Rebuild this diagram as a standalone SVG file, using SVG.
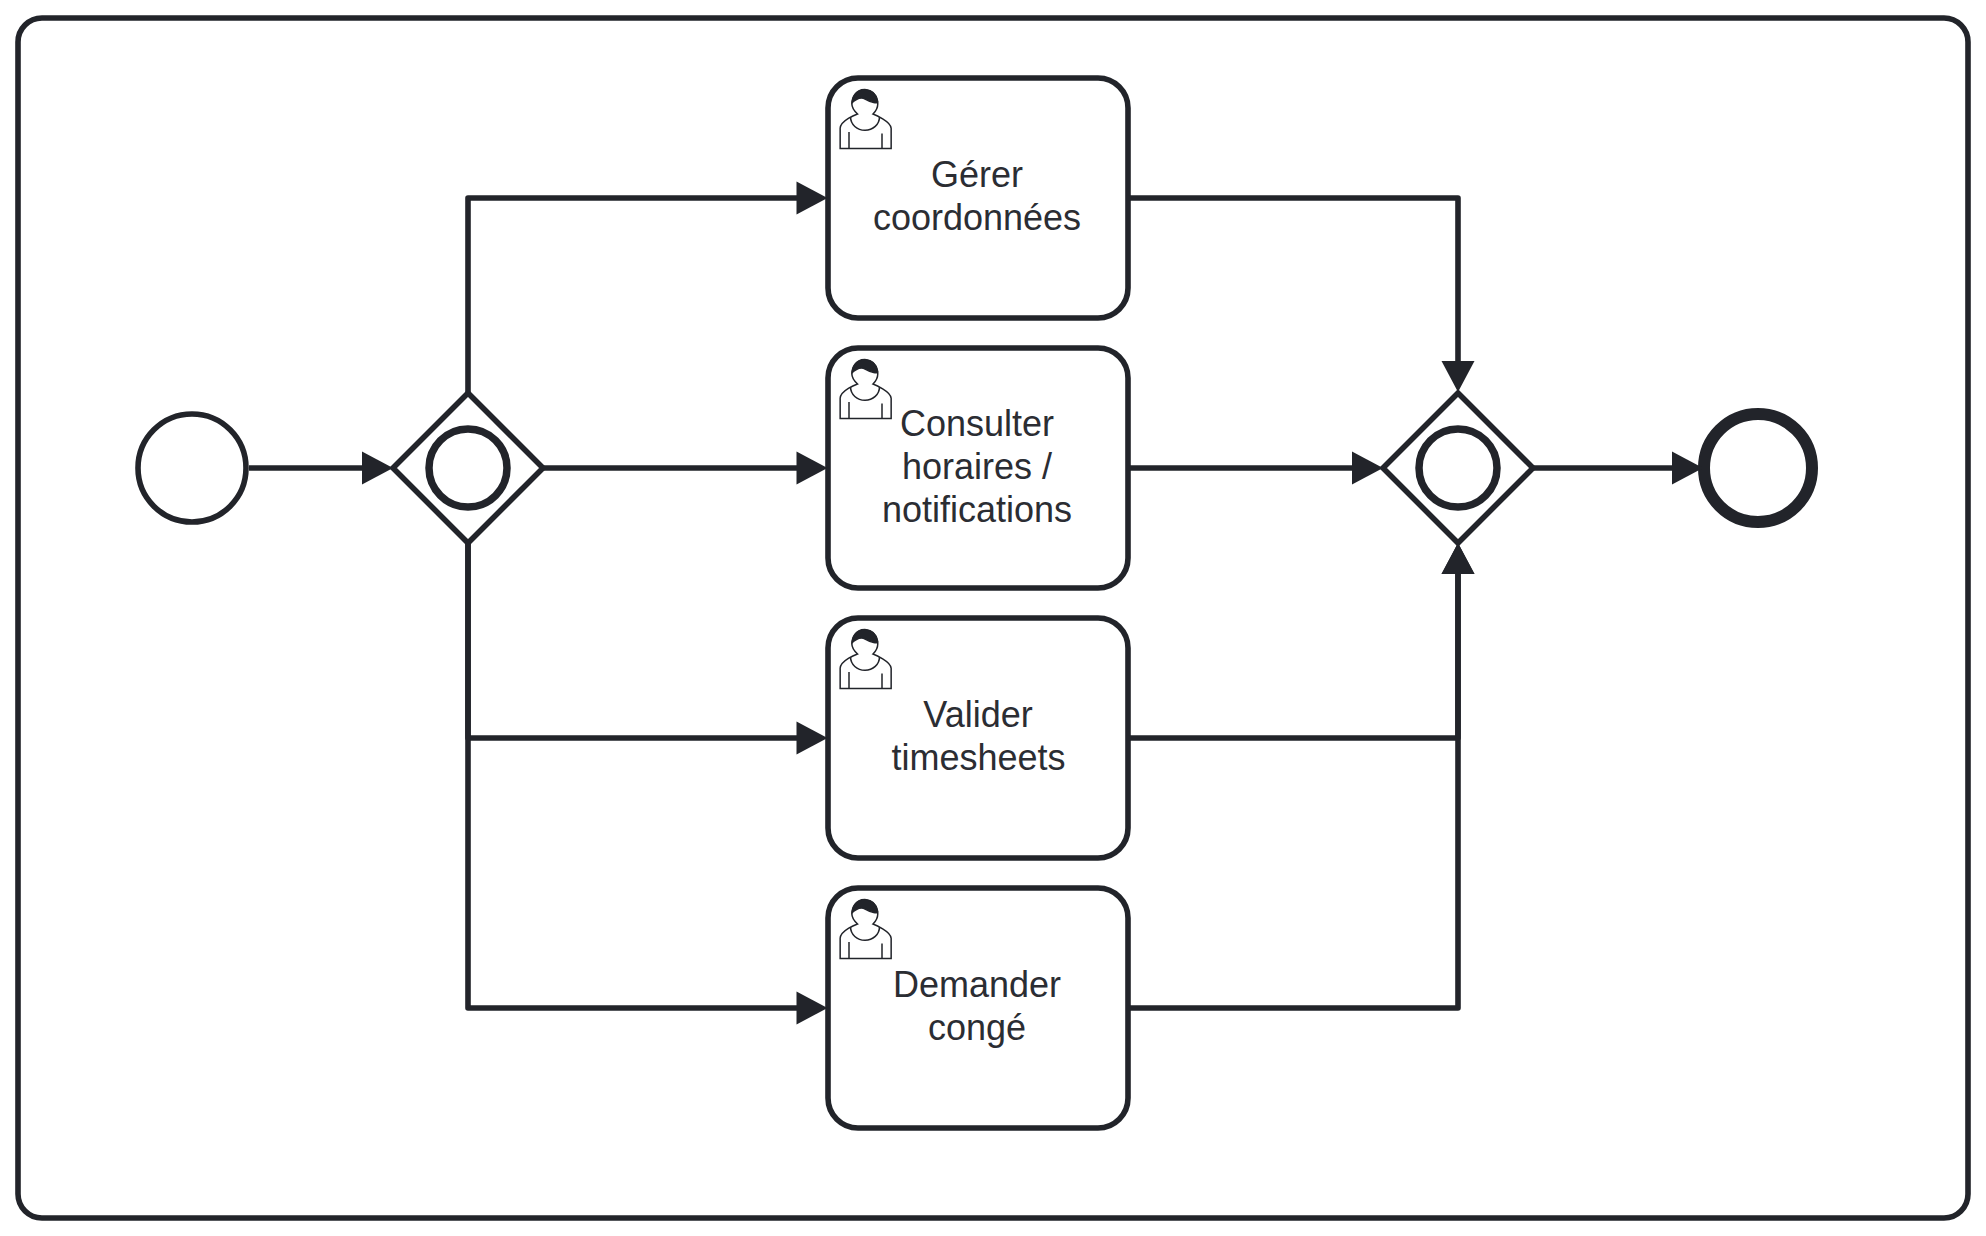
<svg xmlns="http://www.w3.org/2000/svg" xmlns:xlink="http://www.w3.org/1999/xlink" width="1986" height="1236" viewBox="0 0 1986 1236">
<style>
.shape{fill:#fff;stroke:#22242a;stroke-width:5.6}
.gw{fill:#fff;stroke:#22242a;stroke-width:5.6;stroke-linejoin:miter}
.ring{fill:#fff;stroke:#22242a;stroke-width:7.5}
.edge{fill:none;stroke:#22242a;stroke-width:5.6;stroke-linejoin:round;marker-end:url(#arrow)}
.plain{fill:none;stroke:#22242a;stroke-width:5.6}
text{font-family:"Liberation Sans",Arial,sans-serif;font-size:36px;fill:#2b2d33;text-anchor:middle}
</style>
<defs>
<marker id="arrow" markerUnits="userSpaceOnUse" markerWidth="34" markerHeight="36" refX="16" refY="18" orient="auto" overflow="visible">
<path d="M0 1.5L31 18L0 34.5Z" fill="#22242a"/>
</marker>
<g id="user">
<path d="m15,12c0.909,-0.845 1.594,-2.049 1.594,-3.385 0,-2.554 -1.805,-4.622 -4.357,-4.622 -2.552,0 -4.288,2.068 -4.288,4.622 0,1.348 0.974,2.562 1.896,3.405 -0.529,0.187 -5.669,2.097 -5.794,4.756v6.718h17v-6.718c0,-2.298 -5.528,-4.595 -6.051,-4.776zm-8,6l0,5.5m11,0l0,-5" fill="#fff" stroke="#22242a" stroke-width=".5"/>
<path d="m15,12m2.162,1.009c0,2.447 -2.158,4.431 -4.821,4.431 -2.665,0 -4.822,-1.981 -4.822,-4.431" fill="none" stroke="#22242a" stroke-width=".5"/>
<path d="m15,12m-6.9,-3.8c0,0 2.251,-2.358 4.274,-1.177 2.024,1.181 4.221,1.537 4.124,0.965 -0.098,-0.57 -0.117,-3.791 -4.191,-4.136 -3.575,0.001 -4.208,3.367 -4.207,4.348z" fill="#22242a" stroke="#22242a" stroke-width=".5"/>
</g>
</defs>
<rect width="1986" height="1236" fill="#fff"/>
<g id="frame"><rect class="plain" x="18" y="18" width="1950" height="1200" rx="24" ry="24"/></g>
<g id="start"><circle class="shape" cx="192" cy="468" r="54"/></g>
<g id="gateway-split"><path class="gw" d="M468 393L543 468L468 543L393 468Z"/><circle class="ring" cx="468" cy="468" r="39"/></g>
<g id="task-gerer"><rect class="shape" x="828" y="78" width="300" height="240" rx="30" ry="30"/><use xlink:href="#user" href="#user" transform="translate(828 78) scale(3)"/><text x="977" y="187">Gérer</text><text x="977" y="230">coordonnées</text></g>
<g id="task-consulter"><rect class="shape" x="828" y="348" width="300" height="240" rx="30" ry="30"/><use xlink:href="#user" href="#user" transform="translate(828 348) scale(3)"/><text x="977" y="436">Consulter</text><text x="977" y="479">horaires /</text><text x="977" y="522">notifications</text></g>
<g id="task-valider"><rect class="shape" x="828" y="618" width="300" height="240" rx="30" ry="30"/><use xlink:href="#user" href="#user" transform="translate(828 618) scale(3)"/><text x="978" y="727">Valider</text><text x="978.500" y="770">timesheets</text></g>
<g id="task-demander"><rect class="shape" x="828" y="888" width="300" height="240" rx="30" ry="30"/><use xlink:href="#user" href="#user" transform="translate(828 888) scale(3)"/><text x="977" y="997">Demander</text><text x="977" y="1040">congé</text></g>
<g id="gateway-join"><path class="gw" d="M1458 393L1533 468L1458 543L1383 468Z"/><circle class="ring" cx="1458" cy="468" r="39"/></g>
<g id="end"><circle class="shape" style="stroke-width:12" cx="1758" cy="468" r="54"/></g>
<g id="connectors">
<path class="edge" d="M249 468H378"/>
<path class="edge" d="M468 393V198H812.500"/>
<path class="edge" d="M543 468H812.500"/>
<path class="edge" d="M468 543V738H812.500"/>
<path class="edge" d="M468 543V1008H812.500"/>
<path class="edge" d="M1128 198H1458V377"/>
<path class="edge" d="M1128 468H1368"/>
<path class="edge" d="M1128 738H1458V558"/>
<path class="edge" d="M1128 1008H1458V558"/>
<path class="edge" d="M1533 468H1688"/>
</g>
</svg>
